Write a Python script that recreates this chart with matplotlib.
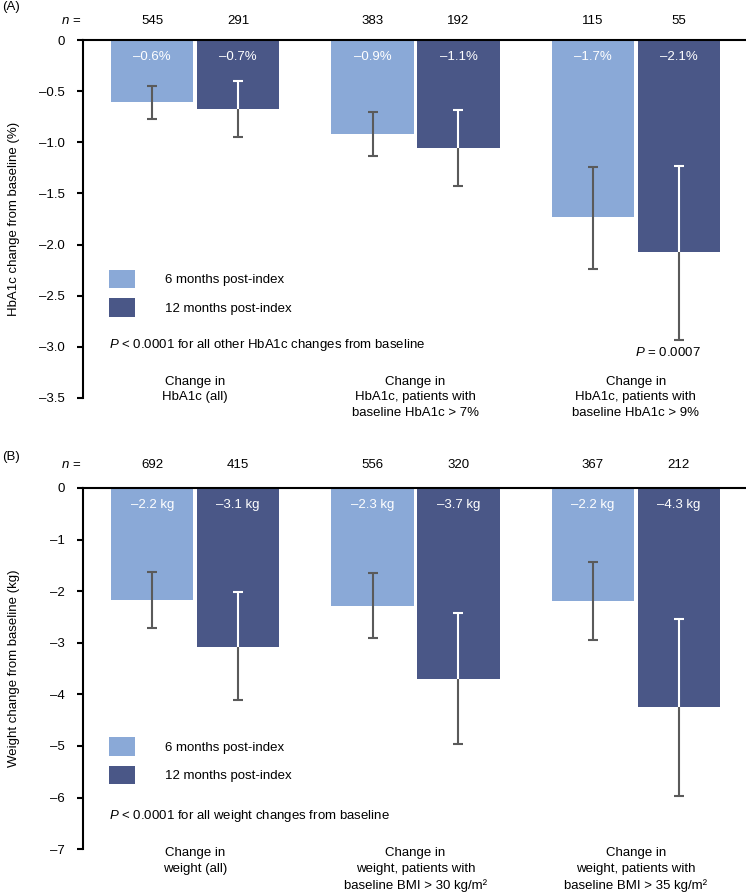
import matplotlib.pyplot as plt
import numpy as np

plt.rcParams['font.family'] = ['Liberation Sans', 'DejaVu Sans']
plt.rcParams['mathtext.fontset'] = 'custom'
plt.rcParams['mathtext.rm'] = 'Liberation Sans'
plt.rcParams['mathtext.it'] = 'Liberation Sans:italic'
plt.rcParams['font.size'] = 9.5

# ---- data, panel A (HbA1c) ----
cats_a = ['Change in\nHbA1c (all)',
          'Change in\nHbA1c, patients with\nbaseline HbA1c > 7%',
          'Change in\nHbA1c, patients with\nbaseline HbA1c > 9%']
n6_a = [545, 383, 115]
n12_a = [291, 192, 55]
six_a = [-0.61, -0.92, -1.73]
twelve_a = [-0.67, -1.06, -2.07]
six_a_ci = [(-0.77, -0.45), (-1.13, -0.70), (-2.24, -1.24)]
twelve_a_ci = [(-0.95, -0.40), (-1.43, -0.68), (-2.93, -1.23)]
lab6_a = ['\u20130.6%', '\u20130.9%', '\u20131.7%']
lab12_a = ['\u20130.7%', '\u20131.1%', '\u20132.1%']
yticks_a = [0, -0.5, -1.0, -1.5, -2.0, -2.5, -3.0, -3.5]

# ---- data, panel B (weight) ----
cats_b = ['Change in\nweight (all)',
          'Change in\nweight, patients with\nbaseline BMI > 30 kg/m\u00b2',
          'Change in\nweight, patients with\nbaseline BMI > 35 kg/m\u00b2']
n6_b = [692, 556, 367]
n12_b = [415, 320, 212]
six_b = [-2.18, -2.28, -2.20]
twelve_b = [-3.09, -3.70, -4.24]
six_b_ci = [(-2.72, -1.62), (-2.91, -1.65), (-2.95, -1.43)]
twelve_b_ci = [(-4.11, -2.02), (-4.96, -2.43), (-5.96, -2.54)]
lab6_b = ['\u20132.2 kg', '\u20132.3 kg', '\u20132.2 kg']
lab12_b = ['\u20133.1 kg', '\u20133.7 kg', '\u20134.3 kg']
yticks_b = [0, -1, -2, -3, -4, -5, -6, -7]

light = '#8aa9d7'
dark = '#4a5787'
grey = '#5a5a5a'
w = 0.373
off = 0.195


def tick_txt(v, fmt):
    if v == 0:
        return '0'
    return (fmt % v).replace('-', '\u2013')


def panel(ax, cats, v6, v12, ci6, ci12, n6, n12, lab6, lab12, yticks, fmt,
          ylabel, note, n_y, lab_y, leg_y, note_y):
    x = np.arange(len(cats))
    series = [(v6, ci6, -off, light, n6, lab6, '6 months post-index'),
              (v12, ci12, off, dark, n12, lab12, '12 months post-index')]
    for vals, ci, dx, col, ns, labs, name in series:
        bars = ax.bar(x + dx, vals, width=w, color=col, label=name, zorder=1)
        for i, b in enumerate(bars):
            lo, hi = ci[i]
            err = [[vals[i] - lo], [hi - vals[i]]]
            ax.errorbar(x[i] + dx, vals[i], yerr=err, fmt='none', ecolor=grey,
                        elinewidth=1.5, capsize=3.8, capthick=1.5, zorder=2)
            if col == dark:
                # part of the error bar inside the dark bar is white
                eb = ax.errorbar(x[i] + dx, vals[i], yerr=err, fmt='none',
                                 ecolor='white', elinewidth=1.5, capsize=3.8,
                                 capthick=1.5, zorder=3)
                for art in list(eb.lines[1]) + list(eb.lines[2]):
                    art.set_clip_path(b)
            ax.annotate(labs[i], (x[i] + dx, 0), xytext=(0, -12),
                        textcoords='offset points', ha='center', va='center',
                        color='white')
            ax.text(x[i] + dx, n_y, str(ns[i]), ha='center', va='center',
                    transform=ax.get_xaxis_transform())
    ax.text(-0.002, n_y, '$\\it{n}$ =', ha='right', va='center',
            transform=ax.transAxes)
    for i, c in enumerate(cats):
        ax.text(x[i], lab_y, c, ha='center', va='top', linespacing=1.42,
                transform=ax.get_xaxis_transform())

    ax.set_xlim(-0.51, 2.5)
    ax.set_ylim(yticks[-1], 0)
    ax.set_yticks(yticks)
    ax.set_yticklabels([tick_txt(t, fmt) for t in yticks])
    ax.set_xticks([])
    for s in ['right', 'bottom']:
        ax.spines[s].set_visible(False)
    ax.spines['left'].set_linewidth(1.5)
    ax.spines['top'].set_linewidth(1.5)
    ax.tick_params(axis='y', length=4, width=1.5, pad=9)
    ax.set_ylabel(ylabel)
    ax.yaxis.set_label_coords(-0.094, 0.5)

    ax.legend(loc='upper left', bbox_to_anchor=(0.039, leg_y), frameon=False,
              borderpad=0, borderaxespad=0, handlelength=2.0, handleheight=1.8,
              labelspacing=0.75, handletextpad=2.3)
    ax.text(0.039, note_y, note, ha='left', va='center', transform=ax.transAxes)


fig = plt.figure(figsize=(7.46, 8.92), dpi=100)
ax1 = fig.add_axes([0.111, 0.554, 0.889, 0.401])
ax2 = fig.add_axes([0.111, 0.048, 0.889, 0.405])

panel(ax1, cats_a, six_a, twelve_a, six_a_ci, twelve_a_ci, n6_a, n12_a,
      lab6_a, lab12_a, yticks_a, '%.1f', 'HbA1c change from baseline (%)',
      '$\\it{P}$ < 0.0001 for all other HbA1c changes from baseline',
      1.053, 0.062, 0.358, 0.148)
panel(ax2, cats_b, six_b, twelve_b, six_b_ci, twelve_b_ci, n6_b, n12_b,
      lab6_b, lab12_b, yticks_b, '%d', 'Weight change from baseline (kg)',
      '$\\it{P}$ < 0.0001 for all weight changes from baseline',
      1.063, 0.006, 0.31, 0.092)

ax1.annotate('$\\it{P}$ = 0.0007', (2 + off, twelve_a_ci[2][0]), xytext=(-7.5, -9.5),
             textcoords='offset points', ha='center', va='center')

fig.text(0.003, 0.992, '(A)', ha='left', va='center')
fig.text(0.003, 0.488, '(B)', ha='left', va='center')

fig.savefig('out.png', dpi=100)
